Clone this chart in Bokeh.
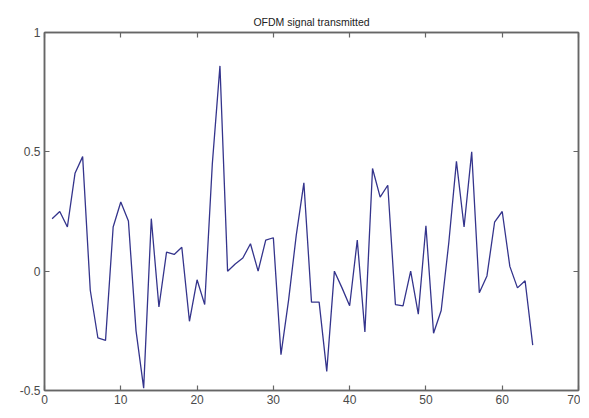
from bokeh.plotting import figure
from bokeh.models import FixedTicker, LinearAxis, Range1d
from bokeh.embed import file_html
from bokeh.resources import INLINE

# data
sample_index = list(range(1, 65))
signal = [0.22, 0.25, 0.185, 0.41, 0.48, -0.08, -0.28, -0.29, 0.185, 0.29,
          0.21, -0.25, -0.49, 0.22, -0.15, 0.08, 0.07, 0.10, -0.21, -0.036,
          -0.14, 0.45, 0.86, 0.0, 0.03, 0.055, 0.115, 0.0, 0.13, 0.14,
          -0.35, -0.12, 0.15, 0.37, -0.13, -0.13, -0.42, 0.0, -0.07, -0.145,
          0.13, -0.255, 0.43, 0.31, 0.36, -0.14, -0.145, 0.0, -0.18, 0.19,
          -0.26, -0.165, 0.12, 0.46, 0.185, 0.5, -0.09, -0.02, 0.205, 0.25,
          0.02, -0.07, -0.04, -0.31]
x_ticks = [0, 10, 20, 30, 40, 50, 60, 70]
x_tick_labels = {t: str(t) for t in x_ticks}
y_ticks = [-0.5, 0, 0.5, 1]
y_tick_labels = {-0.5: "-0.5", 0: "0", 0.5: "0.5", 1: "1"}
title_text = "OFDM signal transmitted"

AX = "#666666"
LBL = "#4a4a4a"
FONT = "Liberation Sans"

p = figure(width=580, height=410, output_backend="svg", toolbar_location=None,
           x_range=Range1d(0, 70), y_range=Range1d(-0.5, 1),
           min_border_left=44, min_border_right=2, min_border_top=32,
           min_border_bottom=20, background_fill_color="white",
           border_fill_color="white")

p.title.text = title_text
p.title.align = "center"
p.title.text_font = FONT
p.title.text_font_size = "10.5px"
p.title.text_font_style = "normal"
p.title.text_color = "#222222"
p.title.offset = 0

p.xgrid.visible = False
p.ygrid.visible = False
p.outline_line_color = AX
p.outline_line_width = 1.5

def style_axis(ax, ticks, labels, show_labels=True):
    ax.ticker = FixedTicker(ticks=ticks)
    ax.major_tick_in = 5
    ax.major_tick_out = 0
    ax.minor_tick_line_color = None
    ax.axis_line_color = AX
    ax.axis_line_width = 1.5
    ax.major_tick_line_color = AX
    ax.major_tick_line_width = 1.2
    if show_labels:
        ax.major_label_overrides = labels
        ax.major_label_text_font = FONT
        ax.major_label_text_font_size = "12px"
        ax.major_label_text_color = LBL
        ax.major_label_standoff = 4
    else:
        ax.major_label_overrides = {t: "" for t in ticks}
        ax.major_label_text_font_size = "1px"
        ax.major_label_standoff = 0

style_axis(p.xaxis[0], x_ticks, x_tick_labels)
style_axis(p.yaxis[0], y_ticks, y_tick_labels)

top = LinearAxis()
style_axis(top, x_ticks, None, show_labels=False)
p.add_layout(top, "above")
right = LinearAxis()
style_axis(right, y_ticks, None, show_labels=False)
p.add_layout(right, "right")

p.line(sample_index, signal, line_color="#34348c", line_width=1.3)

open("out.html", "w").write(file_html(p, INLINE))
